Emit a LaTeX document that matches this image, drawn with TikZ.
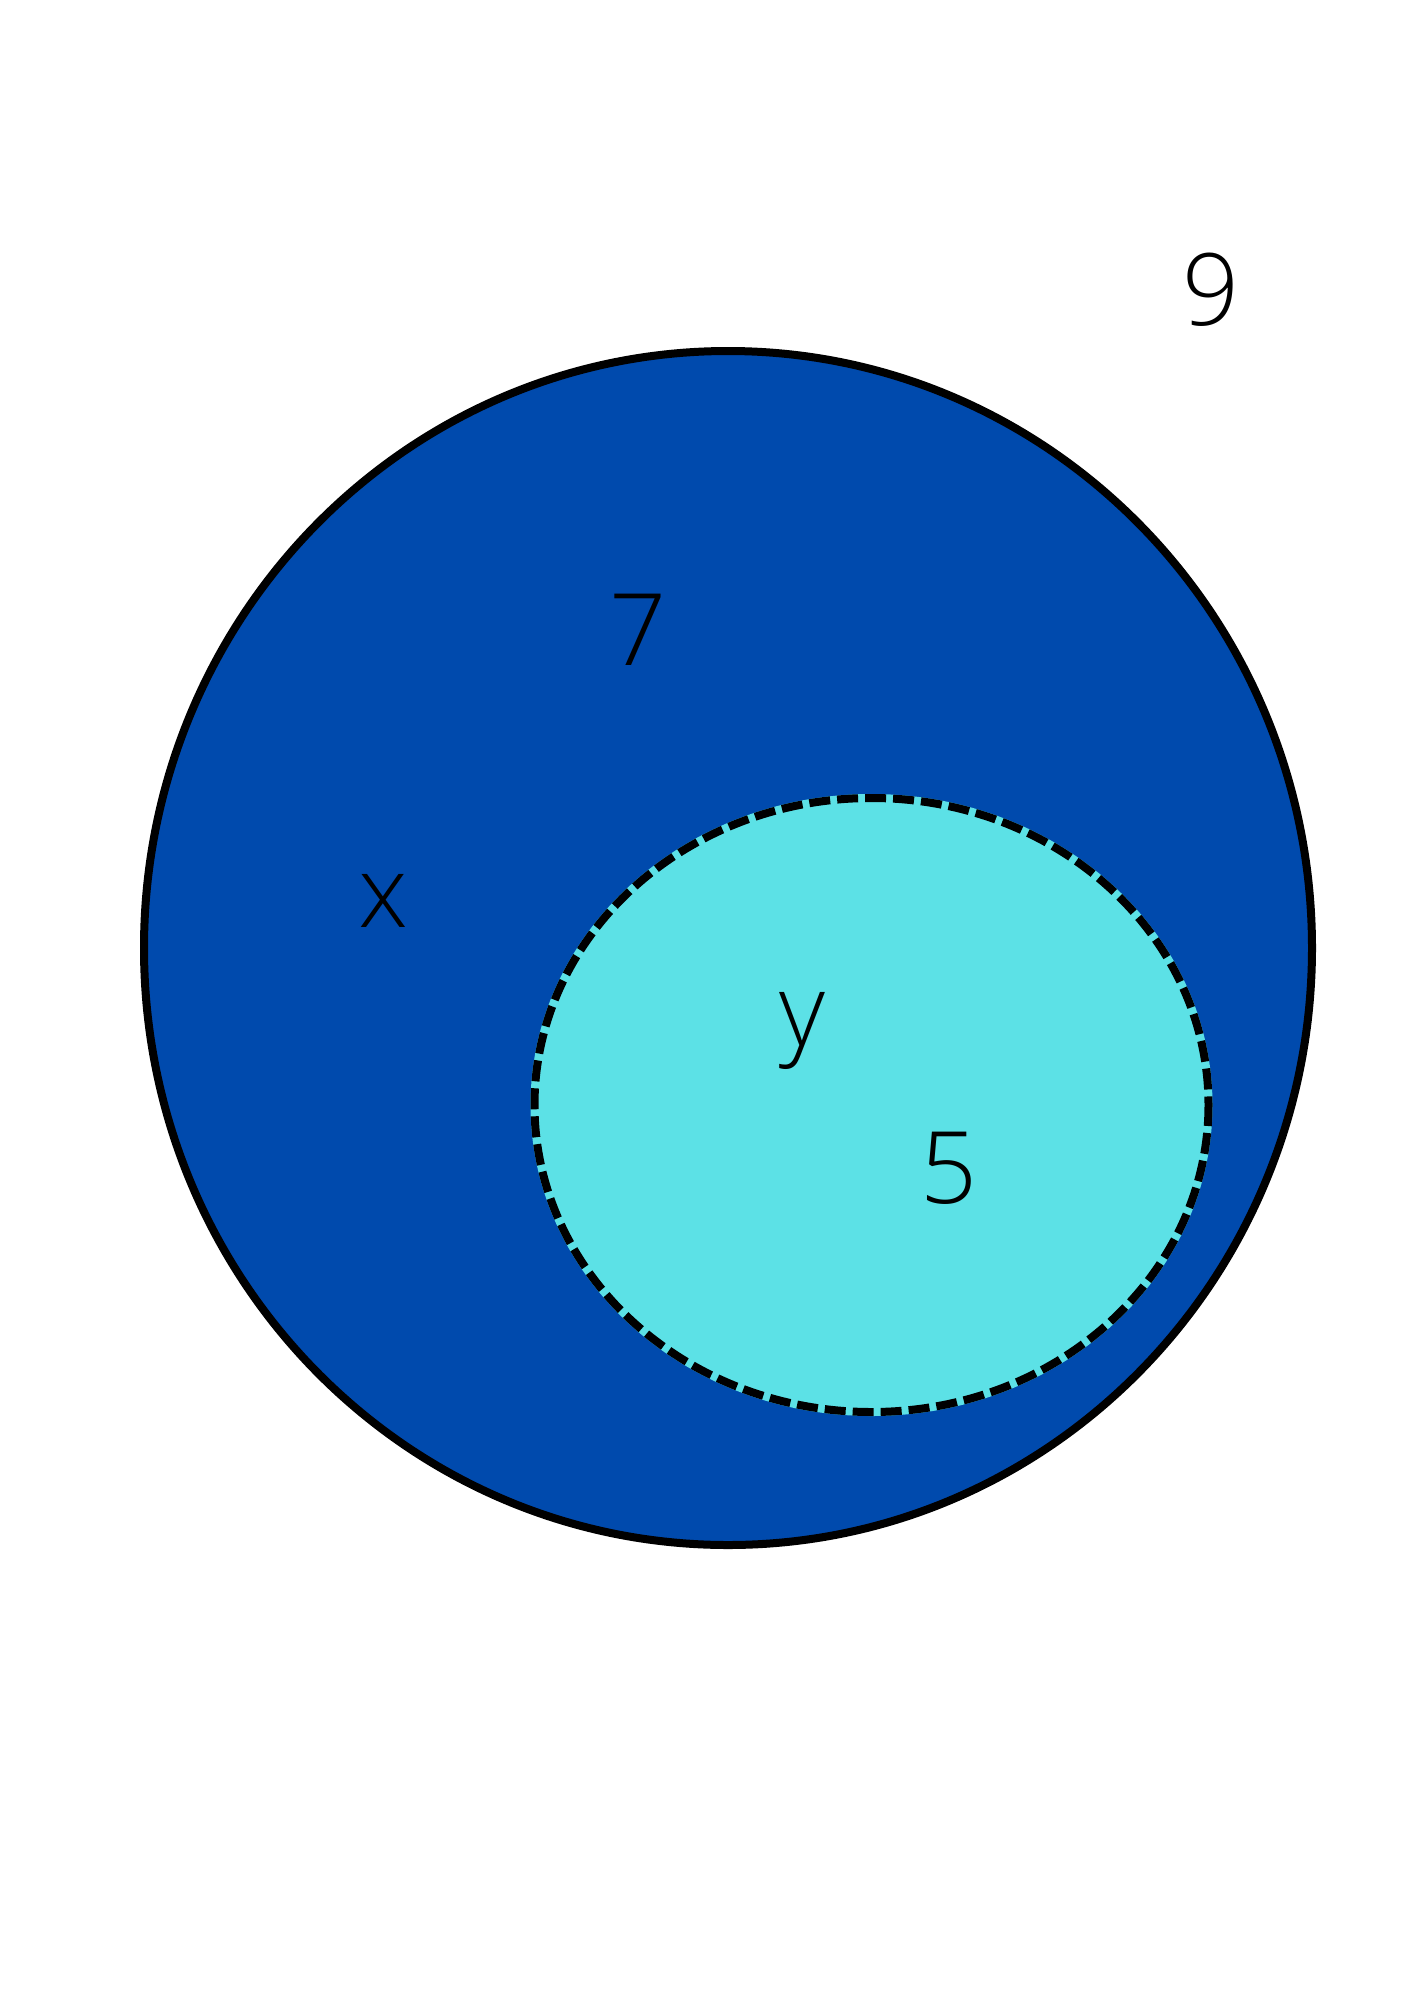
\documentclass[tikz,border=0pt]{standalone}
\usepackage{fontspec}
\setmainfont{Open Sans}[UprightFont=* Light]
\definecolor{setblue}{HTML}{004AAD}
\definecolor{setcyan}{HTML}{5CE1E6}
\tikzset{
  lbl/.style={font=\fontsize{100}{100}\selectfont, text=black, inner sep=0pt, anchor=base},
}
\begin{document}
\begin{tikzpicture}[x=1pt,y=-1pt]
\useasboundingbox (0,0) rectangle (1414,2000);
\fill[white] (0,0) rectangle (1414,2000);
% outer set
\draw[line width=8pt, fill=setblue] (728,948) ellipse [x radius=584, y radius=597];
% inner set
\draw[line width=8pt, draw=setcyan, fill=setcyan] (871.5,1105) ellipse [x radius=337, y radius=307];
\draw[line width=8pt, draw=black, dash pattern=on 21pt off 7pt] (871.5,1105) ellipse [x radius=337, y radius=307];
% labels
\node[lbl] (nine) at (1211,325) {9};
\node[lbl] (seven) at (638,665) {7};
\node[lbl] (x) at (383,927) {x};
\node[lbl] (y) at (802,1045) {y};
\node[lbl] (five) at (949,1203) {5};
\end{tikzpicture}
\end{document}
